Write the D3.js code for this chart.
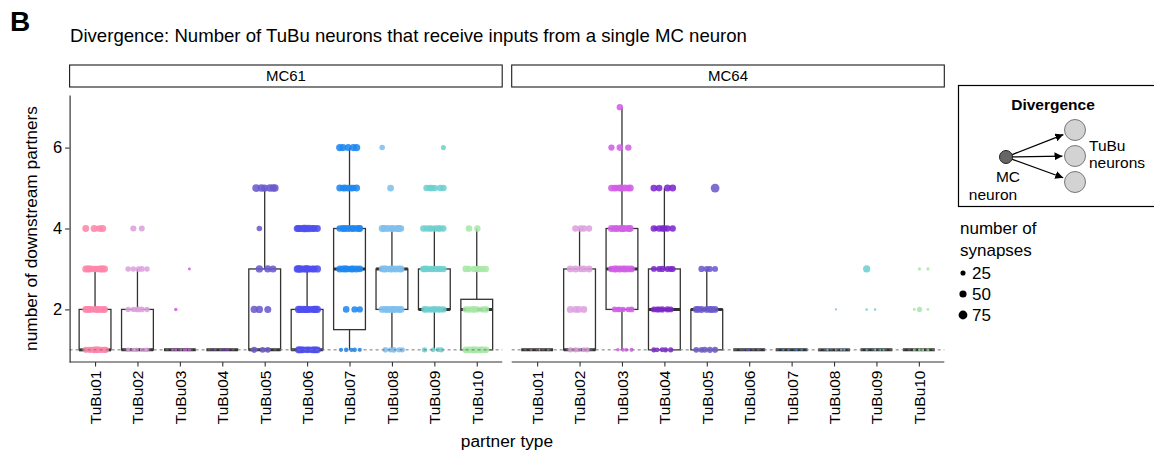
<!DOCTYPE html>
<html>
<head>
<meta charset="utf-8">
<script src="https://cdn.jsdelivr.net/npm/d3@7"></script>
<style>
  body { margin: 0; background: #fff; }
  svg text { font-family: "Liberation Sans", Arial, Helvetica, sans-serif; fill: #000; }
</style>
</head>
<body>
<svg id="chart" width="1154" height="457"></svg>
<script>
// ---- data -----------------------------------------------------------------
const partnerTypes = ["TuBu01","TuBu02","TuBu03","TuBu04","TuBu05","TuBu06","TuBu07","TuBu08","TuBu09","TuBu10"];
const panelNames = ["MC61","MC64"];
const typeColors = ["#FF85AA","#DDA0DD","#D25FE6","#7D27CF","#6A5ACD","#4D4DF0","#1E88F0","#7EBFEE","#6ECFCF","#A6E8A6"];
const yTickValues = [2, 4, 6];
const sizeBreaks = [25, 50, 75];

// box summaries per partner type: [lower whisker, q1, median, q3, upper whisker]
const boxesMC61 = [
  [1, 1, 1, 2, 3], [1, 1, 1, 2, 3], [1, 1, 1, 1, 1], [1, 1, 1, 1, 1], [1, 1, 1, 3, 5],
  [1, 1, 1, 2, 3], [1, 1.5, 3, 4, 6], [1, 2, 3, 3, 4], [1, 2, 2, 3, 4], [1, 1, 2, 2.25, 4]
];
const boxesMC64 = [
  [1, 1, 1, 1, 1], [1, 1, 1, 3, 4], [1, 2, 3, 4, 7], [1, 1, 2, 3, 5], [1, 1, 2, 2, 3],
  [1, 1, 1, 1, 1], [1, 1, 1, 1, 1], [1, 1, 1, 1, 1], [1, 1, 1, 1, 1], [1, 1, 1, 1, 1]
];

// per MC neuron: number of downstream partners -> synapse counts of those neurons
const neuronsMC61 = [
  {1:[38,42,35,40,44,36,41,39,37,43], 2:[45,42,48,40,46,44,43,47,41,45], 3:[46,44,42,48,45,43,47,41,44,46], 4:[50,48,46,44]},
  {1:[18,22,20,16,19,21], 2:[30,28,32,27,29,31], 3:[30,32,28,29,31], 4:[34,36]},
  {1:[8,7,9,6,8,7], 2:[12], 3:[8]},
  {1:[5,4,6,5,4,6]},
  {1:[34,36,32], 2:[50,48,52], 3:[50,52,48], 4:[30], 5:[55,52,58,54,56,53]},
  {1:[44,46,42,48,45,43,47,41,44,46], 2:[50,48,52,46,51,49,47,53,50,48], 3:[50,52,48,46,51,49,53,47,50,52], 4:[50,48,52,46,51,49,47,53,50]},
  {1:[18,22,20,16,19], 2:[40,42,38], 3:[45,43,47,44,46,42,48,45,44], 4:[45,44,46,43,47,42,48,45,46], 5:[45,43,47,44,46,42,48], 6:[50,52,48,51,49]},
  {1:[28,32,30,26,29], 2:[45,43,47,44,46,42,48,45,44], 3:[45,44,46,43,47,42,48,45,46], 4:[45,43,47,44,46,42,48,45,44], 5:[45], 6:[30]},
  {1:[25,23,27,24], 2:[40,42,38,41,39,43,37,40], 3:[40,42,38,41,39,43,37,40,41], 4:[40,42,38,41,39,43,37,40], 5:[40,42,38,41,39,43], 6:[25]},
  {1:[45,43,47,44,46,42,48,45], 2:[40,42,38,41,39,43,37], 3:[40,42,38,41,39,43,37], 4:[40,42]}
];
const neuronsMC64 = [
  {1:[3,4,3]},
  {1:[25,22,28,24,26], 2:[45,48,44,46], 3:[45,44,48,46,43], 4:[40,42,38,41]},
  {1:[15,12,16,14], 2:[30,32,28,31,29,30], 3:[45,43,47,44,46,42,48,45], 4:[45,44,46,43,47,42,48,45,46], 5:[45,43,47,44,46,42,48,45], 6:[40,42,38], 7:[40]},
  {1:[25,22,28,24,26], 2:[35,33,37,34,36,35], 3:[35,37,33,36,34,35], 4:[40,42,38,41,39,43,20], 5:[45,47,43,46]},
  {1:[35,33,37,34,36], 2:[45,43,47,44,46,42,48], 3:[35,37,33,36], 5:[75]},
  {1:[5,4,6]},
  {1:[5,6,4,5]},
  {1:[5,4,6,5], 2:[5]},
  {1:[5,6,4,5], 2:[6,6], 3:[50]},
  {1:[8,7,9,8], 2:[8,8,25], 3:[10,10]}
];

// ---- layout ---------------------------------------------------------------
const svg = d3.select("#chart");
const panelTop = 95, panelBottom = 362;
const panelX = [69.6, 511.7];
const panelW = 432.6;
const stripTop = 65, stripH = 22;
const fontStack = '"Liberation Sans", Arial, sans-serif';

const y = d3.scaleLinear().domain([0.7, 7.3]).range([panelBottom, panelTop]);
const r = d3.scaleSqrt().domain([0, 75]).range([0, 4.4]);

// deterministic spread of points across the box width
const spread = k => ((k * 0.6180339 + 0.37) % 1 - 0.5) * 2 * 0.26;

const panelData = [
  { name: panelNames[0], boxes: boxesMC61, neurons: neuronsMC61 },
  { name: panelNames[1], boxes: boxesMC64, neurons: neuronsMC64 }
];

// panel label "B" and title
svg.append("text").attr("x", 10).attr("y", 31)
  .style("font-size", "28px").style("font-weight", "bold").text("B");
svg.append("text").attr("x", 70).attr("y", 42)
  .style("font-size", "18.6px")
  .text("Divergence: Number of TuBu neurons that receive inputs from a single MC neuron");

panelData.forEach((p, pi) => {
  const x0 = panelX[pi];
  const x = d3.scalePoint().domain(partnerTypes).range([x0, x0 + panelW]).padding(0.6);
  const step = x.step();
  const boxW = step * 0.75;

  // strip
  const strip = svg.append("g");
  strip.append("rect").attr("x", x0).attr("y", stripTop).attr("width", panelW).attr("height", stripH)
    .attr("fill", "#fff").attr("stroke", "#1a1a1a").attr("stroke-width", 1.1);
  strip.append("text").attr("x", x0 + panelW / 2).attr("y", stripTop + stripH / 2)
    .attr("dy", "0.36em").attr("text-anchor", "middle").style("font-size", "15px").text(p.name);

  const g = svg.append("g");

  // boxes
  const boxG = g.selectAll("g.box").data(p.boxes).join("g").attr("class", "box")
    .attr("transform", (d, i) => `translate(${x(partnerTypes[i])},0)`);
  boxG.append("line").attr("x1", 0).attr("x2", 0)
    .attr("y1", d => y(d[3])).attr("y2", d => y(d[4]))
    .attr("stroke", "#333").attr("stroke-width", 1.3);
  boxG.append("line").attr("x1", 0).attr("x2", 0)
    .attr("y1", d => y(d[0])).attr("y2", d => y(d[1]))
    .attr("stroke", "#333").attr("stroke-width", 1.3);
  boxG.append("rect").attr("x", -boxW / 2).attr("width", boxW)
    .attr("y", d => y(d[3])).attr("height", d => y(d[1]) - y(d[3]))
    .attr("fill", "#fff").attr("stroke", "#333").attr("stroke-width", 1.3);
  boxG.append("line").attr("x1", -boxW / 2).attr("x2", boxW / 2)
    .attr("y1", d => y(d[2])).attr("y2", d => y(d[2]))
    .attr("stroke", "#333").attr("stroke-width", 3);

  // jittered points
  const pts = [];
  p.neurons.forEach((grp, ti) => {
    Object.keys(grp).forEach(v => {
      grp[v].forEach((s, k) => pts.push({ type: partnerTypes[ti], ti, value: +v, syn: s, k: k + ti * 3 + (+v) }));
    });
  });
  g.selectAll("circle.pt").data(pts).join("circle").attr("class", "pt")
    .attr("cx", d => x(d.type) + spread(d.k) * step)
    .attr("cy", d => y(d.value))
    .attr("r", d => r(d.syn))
    .attr("fill", d => typeColors[d.ti])
    .attr("fill-opacity", 0.88);

  // reference line at one partner
  g.append("line").attr("x1", x0).attr("x2", x0 + panelW)
    .attr("y1", y(1)).attr("y2", y(1))
    .attr("stroke", "#777").attr("stroke-width", 1).attr("stroke-dasharray", "3,3");

  // x axis
  const xa = svg.append("g").attr("transform", `translate(0,${panelBottom})`)
    .call(d3.axisBottom(x).tickSize(4.5).tickSizeOuter(0));
  xa.select(".domain").attr("stroke", "#333").attr("stroke-width", 1.2)
    .attr("d", `M${x0},0H${x0 + panelW}`);
  xa.selectAll(".tick line").attr("stroke", "#333").attr("stroke-width", 1.1);
  xa.selectAll(".tick text")
    .attr("transform", "rotate(-90)").attr("x", -8.5).attr("y", 0).attr("dy", "0.35em")
    .style("text-anchor", "end").style("font-size", "15.5px")
    .style("font-family", fontStack).attr("fill", "#000");

  // y axis on the left panel only
  if (pi === 0) {
    const ya = svg.append("g").attr("transform", `translate(${x0},0)`)
      .call(d3.axisLeft(y).tickValues(yTickValues).tickFormat(d3.format("d"))
        .tickSize(4.5).tickSizeOuter(0).tickPadding(3));
    ya.select(".domain").attr("stroke", "#333").attr("stroke-width", 1.2);
    ya.selectAll(".tick line").attr("stroke", "#333").attr("stroke-width", 1.1);
    ya.selectAll(".tick text").style("font-size", "16.5px")
      .style("font-family", fontStack).attr("fill", "#000");
  }
});

// axis titles
svg.append("text").attr("transform", `translate(37,${(panelTop + panelBottom) / 2}) rotate(-90)`)
  .attr("text-anchor", "middle").style("font-size", "17.3px").text("number of downstream partners");
svg.append("text").attr("x", (panelX[0] + panelX[1] + panelW) / 2).attr("y", 447)
  .attr("text-anchor", "middle").style("font-size", "17.3px").text("partner type");

// ---- schematic legend -----------------------------------------------------
const leg = svg.append("g");
leg.append("rect").attr("x", 958.5).attr("y", 85.5).attr("width", 210).attr("height", 121)
  .attr("fill", "#fff").attr("stroke", "#000").attr("stroke-width", 1.2);
leg.append("text").attr("x", 1053).attr("y", 110).attr("text-anchor", "middle")
  .style("font-size", "15.5px").style("font-weight", "bold").text("Divergence");

const defs = svg.append("defs");
defs.append("marker").attr("id", "arrowHead").attr("viewBox", "0 0 10 10")
  .attr("refX", 10).attr("refY", 5).attr("markerWidth", 8).attr("markerHeight", 8)
  .attr("markerUnits", "userSpaceOnUse").attr("orient", "auto")
  .append("path").attr("d", "M0,0L10,5L0,10z").attr("fill", "#000");

const src = { x: 1006, y: 157 };
const targets = [{ x: 1075, y: 130 }, { x: 1075, y: 156 }, { x: 1075, y: 182 }];
const targetR = 10.5;
targets.forEach(t => {
  const dx = t.x - src.x, dy = t.y - src.y, L = Math.hypot(dx, dy);
  leg.append("line")
    .attr("x1", src.x + dx / L * 6).attr("y1", src.y + dy / L * 6)
    .attr("x2", t.x - dx / L * (targetR + 2)).attr("y2", t.y - dy / L * (targetR + 2))
    .attr("stroke", "#000").attr("stroke-width", 1.3).attr("marker-end", "url(#arrowHead)");
});
leg.selectAll("circle.tgt").data(targets).join("circle").attr("class", "tgt")
  .attr("cx", d => d.x).attr("cy", d => d.y).attr("r", targetR)
  .attr("fill", "#d3d3d3").attr("stroke", "#777").attr("stroke-width", 1);
leg.append("circle").attr("cx", src.x).attr("cy", src.y).attr("r", 6.5)
  .attr("fill", "#666").attr("stroke", "#222").attr("stroke-width", 1);
leg.append("text").attr("x", 1089).attr("y", 151).style("font-size", "15.5px").text("TuBu");
leg.append("text").attr("x", 1089).attr("y", 168).style("font-size", "15.5px").text("neurons");
leg.append("text").attr("x", 1008).attr("y", 182).attr("text-anchor", "middle").style("font-size", "15.5px").text("MC");
leg.append("text").attr("x", 993).attr("y", 200).attr("text-anchor", "middle").style("font-size", "15.5px").text("neuron");

// ---- size legend ----------------------------------------------------------
const sl = svg.append("g");
sl.append("text").attr("x", 960).attr("y", 234).style("font-size", "17px").text("number of");
sl.append("text").attr("x", 960).attr("y", 256).style("font-size", "17px").text("synapses");
const slItems = sl.selectAll("g.item").data(sizeBreaks).join("g").attr("class", "item")
  .attr("transform", (d, i) => `translate(0,${273 + i * 21})`);
slItems.append("circle").attr("cx", 963).attr("cy", 0).attr("r", d => r(d)).attr("fill", "#000");
slItems.append("text").attr("x", 972).attr("y", 0).attr("dy", "0.36em").style("font-size", "17px").text(d => d);
</script>
</body>
</html>
